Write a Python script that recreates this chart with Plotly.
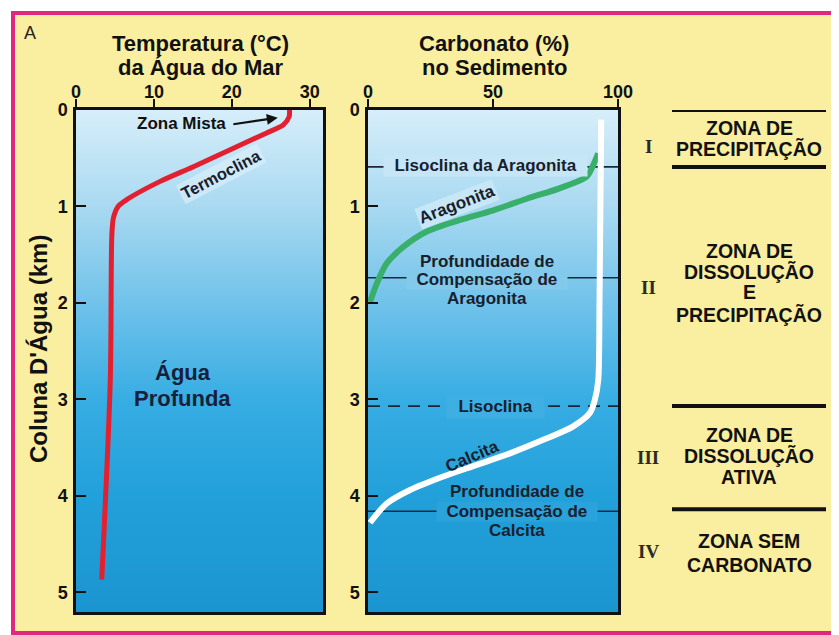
import numpy as np
import plotly.graph_objects as go

# ---------------- data ----------------
temp_c = [27.4, 27.35, 26.6, 24.4, 19.3, 15.0, 10.8, 6.5, 5.4, 4.8, 4.6, 4.4, 3.3]
temp_depth = [0.0, 0.07, 0.155, 0.24, 0.43, 0.59, 0.74, 0.93, 1.0, 1.12, 1.30, 2.8, 4.87]

aragonite_pct = [92.1, 90.1, 87.5, 76.8, 63.5, 50.1, 36.8, 23.5, 14.1, 7.5, 3.5, 0.8]
aragonite_depth = [0.45, 0.57, 0.69, 0.81, 0.92, 1.04, 1.14, 1.26, 1.42, 1.59, 1.80, 1.99]

calcite_pct = [93.3, 92.6, 92.1, 90.8, 88.8, 82.1, 70.1, 56.8, 43.5, 30.1, 16.8, 7.5, 0.8]
calcite_depth = [0.10, 2.0, 2.8, 3.0, 3.14, 3.28, 3.42, 3.56, 3.68, 3.80, 3.94, 4.08, 4.28]

# reference depths (km): aragonite lysocline, ACD, lysocline, CCD
ref_depth = [0.59, 1.74, 3.07, 4.16]
ref_dash = ["solid", "solid", "12px,8px", "solid"]

temp_ticks = [0, 10, 20, 30]
carb_ticks = [0, 50, 100]
depth_ticks = [0, 1, 2, 3, 4, 5]

zone_numerals = ["I", "II", "III", "IV"]
zone_lines = [["ZONA DE", "PRECIPITAÇÃO"],
              ["ZONA DE", "DISSOLUÇÃO", "E", "PRECIPITAÇÃO"],
              ["ZONA DE", "DISSOLUÇÃO", "ATIVA"],
              ["ZONA SEM", "CARBONATO"]]
zone_line_depths = [[0.19, 0.40],
                    [1.46, 1.68, 1.89, 2.13],
                    [3.37, 3.59, 3.81],
                    [4.47, 4.72]]
zone_numeral_depths = [0.383, 1.845, 3.60, 4.58]
zone_bounds = [0.0, 0.59, 3.07, 4.14]

# gradient of the water column
grad_depth = [0, 1, 2, 3, 4, 5.21]
grad_color = ["#d6eefa", "#a9d9f1", "#70c2ea", "#37ade3", "#22a0da", "#1b95cf"]

# ---------------- helpers ----------------
OFF = 8                      # page body margin
W, H = 839 - OFF, 635 - OFF
def px(x):
    return (x - OFF) / W
def py(y):
    return 1 - (y - OFF) / H

def hex2rgb(h):
    h = h.lstrip("#")
    return [int(h[i:i + 2], 16) for i in (0, 2, 4)]

def grad_at(d, lighten=0.0):
    rgbs = np.array([hex2rgb(c) for c in grad_color], float)
    c = [np.interp(d, grad_depth, rgbs[:, k]) for k in range(3)]
    c = [v + (255 - v) * lighten for v in c]
    return "rgb(%d,%d,%d)" % tuple(int(round(v)) for v in c)

DMAX = 5.205
TXT = "#18202e"
FONT = "Liberation Sans, Arial, sans-serif"
NB = "&nbsp;&nbsp;"

fig = go.Figure()

# background gradients
zgrid = np.linspace(0, DMAX, 60)
cscale = [[d / DMAX, c] for d, c in zip(grad_depth, grad_color)]
cscale[-1][0] = 1.0
for xa, ya, xr in (("x", "y", [0, 31.7]), ("x2", "y2", [0, 100])):
    fig.add_trace(go.Heatmap(
        x=xr, y=zgrid, z=np.column_stack([zgrid, zgrid]),
        colorscale=cscale, zmin=0, zmax=DMAX, zsmooth="best",
        showscale=False, hoverinfo="skip", xaxis=xa, yaxis=ya))

# reference horizontal lines in carbonate panel
for d, dash in zip(ref_depth, ref_dash):
    fig.add_trace(go.Scatter(
        x=[0, 100], y=[d, d], mode="lines",
        line=dict(color="#1c2838", width=1.6, dash=dash),
        hoverinfo="skip", showlegend=False, xaxis="x2", yaxis="y2"))

# curves
fig.add_trace(go.Scatter(x=temp_c, y=temp_depth, mode="lines",
                         line=dict(color="#e2202f", width=5, shape="spline", smoothing=0.8),
                         showlegend=False, xaxis="x", yaxis="y"))
fig.add_trace(go.Scatter(x=aragonite_pct, y=aragonite_depth, mode="lines",
                         line=dict(color="#38b06b", width=6, shape="spline", smoothing=0.8),
                         showlegend=False, xaxis="x2", yaxis="y2"))
fig.add_trace(go.Scatter(x=calcite_pct, y=calcite_depth, mode="lines",
                         line=dict(color="#ffffff", width=6, shape="spline", smoothing=0.8),
                         showlegend=False, xaxis="x2", yaxis="y2"))

ann = []
def A(**kw):
    kw.setdefault("xanchor", "center")
    kw.setdefault("yanchor", "middle")
    ann.append(kw)

# panel titles
for x, lines in ((200, ["Temperatura (°C)", "da Água do Mar"]),
                 (494, ["Carbonato (%)", "no Sedimento"])):
    for y, t in zip((44, 67), lines):
        A(x=px(x), y=py(y), xref="paper", yref="paper", text="<b>%s</b>" % t,
          showarrow=False, font=dict(family=FONT, size=22, color="#111"))

A(x=px(30), y=py(33), xref="paper", yref="paper", text="A", showarrow=False,
  font=dict(family=FONT, size=18, color="#222"))
A(x=px(38), y=py(349), xref="paper", yref="paper", text="<b>Coluna D'Água (km)</b>",
  textangle=-90, showarrow=False, font=dict(family=FONT, size=24, color="#111"))

# left panel labels
A(x=13.6, y=0.145, xref="x", yref="y", text="<b>Zona Mista</b>", showarrow=False,
  font=dict(family=FONT, size=17, color="#111"))
A(x=25.9, y=0.08, xref="x", yref="y", ax=20.0, ay=0.15, axref="x", ayref="y",
  text="", showarrow=True, arrowhead=2, arrowsize=1, arrowwidth=2.2, arrowcolor="#111")
A(x=18.6, y=0.66, xref="x", yref="y", text="<b>Termoclina</b>", textangle=-27.5,
  showarrow=False, bgcolor="rgba(225,242,251,0.55)",
  font=dict(family=FONT, size=16.5, color=TXT))
A(x=13.7, y=2.72, xref="x", yref="y", text="<b>Água</b>", showarrow=False,
  font=dict(family=FONT, size=22, color="#16203a"))
A(x=13.7, y=2.99, xref="x", yref="y", text="<b>Profunda</b>", showarrow=False,
  font=dict(family=FONT, size=22, color="#16203a"))

# right panel labels
lab_font = dict(family=FONT, size=17, color=TXT)
A(x=46.8, y=0.58, xref="x2", yref="y2", text="%s<b>Lisoclina da Aragonita</b>%s" % (NB, NB),
  showarrow=False, bgcolor=grad_at(0.58, 0.15), borderpad=1, font=lab_font)
A(x=35.5, y=0.98, xref="x2", yref="y2", text="<b>Aragonita</b>", textangle=-21,
  showarrow=False, bgcolor=grad_at(0.98, 0.35), font=lab_font)
for d, t in zip([1.575, 1.76, 1.95], ["Profundidade de", "Compensação de", "Aragonita"]):
    comp = t.startswith("Comp")
    A(x=47.5, y=d, xref="x2", yref="y2",
      text=(NB + "<b>%s</b>" + NB) % t if comp else "<b>%s</b>" % t, showarrow=False,
      bgcolor=grad_at(d, 0.03) if comp else None, borderpad=0, font=lab_font)
A(x=50.8, y=3.075, xref="x2", yref="y2", text="%s<b>Lisoclina</b>%s" % (NB, NB),
  showarrow=False, bgcolor=grad_at(3.075, 0.04), borderpad=2, font=lab_font)
A(x=41.5, y=3.59, xref="x2", yref="y2", text="<b>Calcita</b>", textangle=-23,
  showarrow=False, font=lab_font)
for d, t in zip([3.955, 4.16, 4.36], ["Profundidade de", "Compensação de", "Calcita"]):
    comp = t.startswith("Comp")
    A(x=59.5, y=d, xref="x2", yref="y2",
      text=(NB + "<b>%s</b>" + NB) % t if comp else "<b>%s</b>" % t, showarrow=False,
      bgcolor=grad_at(d, 0.04) if comp else None, borderpad=0, font=lab_font)

# zone labels at right
for num, nd, lines, lds in zip(zone_numerals, zone_numeral_depths, zone_lines, zone_line_depths):
    A(x=px(648), y=nd, xref="paper", yref="y2", text="<b>%s</b>" % num, showarrow=False,
      font=dict(family="Liberation Serif, Times New Roman, serif", size=19, color="#2a2a2a"))
    for t, d in zip(lines, lds):
        A(x=px(749), y=d, xref="paper", yref="y2", text="<b>%s</b>" % t, showarrow=False,
          font=dict(family=FONT, size=19.5, color="#111"))

shapes = [dict(type="rect", xref="paper", yref="paper", x0=px(13), x1=px(837),
               y0=py(633), y1=py(13), line=dict(color="#e0287e", width=4),
               fillcolor="#faeea0", layer="below")]
for d in zone_bounds:
    shapes.append(dict(type="line", xref="paper", yref="y2", x0=px(672), x1=px(826),
                       y0=d, y1=d, line=dict(color="#111", width=4)))

ax_common = dict(showgrid=False, zeroline=False, showline=True, linewidth=2.5,
                 linecolor="#111", mirror=True, automargin=False)
tickf = dict(family=FONT, size=18, color="#111", weight="bold")

fig.update_layout(
    width=W, height=H, margin=dict(l=0, r=0, t=0, b=0, pad=0, autoexpand=False),
    paper_bgcolor="white", plot_bgcolor="rgba(0,0,0,0)",
    showlegend=False, annotations=ann, shapes=shapes,
    xaxis=dict(domain=[px(76), px(323)], range=[0, 31.7], side="top", anchor="y",
               tickvals=temp_ticks, ticks="outside", ticklen=8, tickwidth=2.2,
               tickcolor="#111", tickfont=tickf, ticklabelstandoff=-6, **ax_common),
    yaxis=dict(domain=[py(612), py(110)], range=[DMAX, 0], anchor="x",
               tickvals=depth_ticks, ticks="inside", ticklen=10, tickwidth=2.2,
               tickcolor="#111", tickfont=tickf, ticklabelstandoff=2, **ax_common),
    xaxis2=dict(domain=[px(368), px(618)], range=[0, 100], side="top", anchor="y2",
                tickvals=carb_ticks, ticks="outside", ticklen=8, tickwidth=2.2,
                tickcolor="#111", tickfont=tickf, ticklabelstandoff=-6, **ax_common),
    yaxis2=dict(domain=[py(612), py(110)], range=[DMAX, 0], anchor="x2",
                tickvals=depth_ticks, ticks="inside", ticklen=10, tickwidth=2.2,
                tickcolor="#111", tickfont=tickf, ticklabelstandoff=2, **ax_common),
)

fig.write_html("out.html")
